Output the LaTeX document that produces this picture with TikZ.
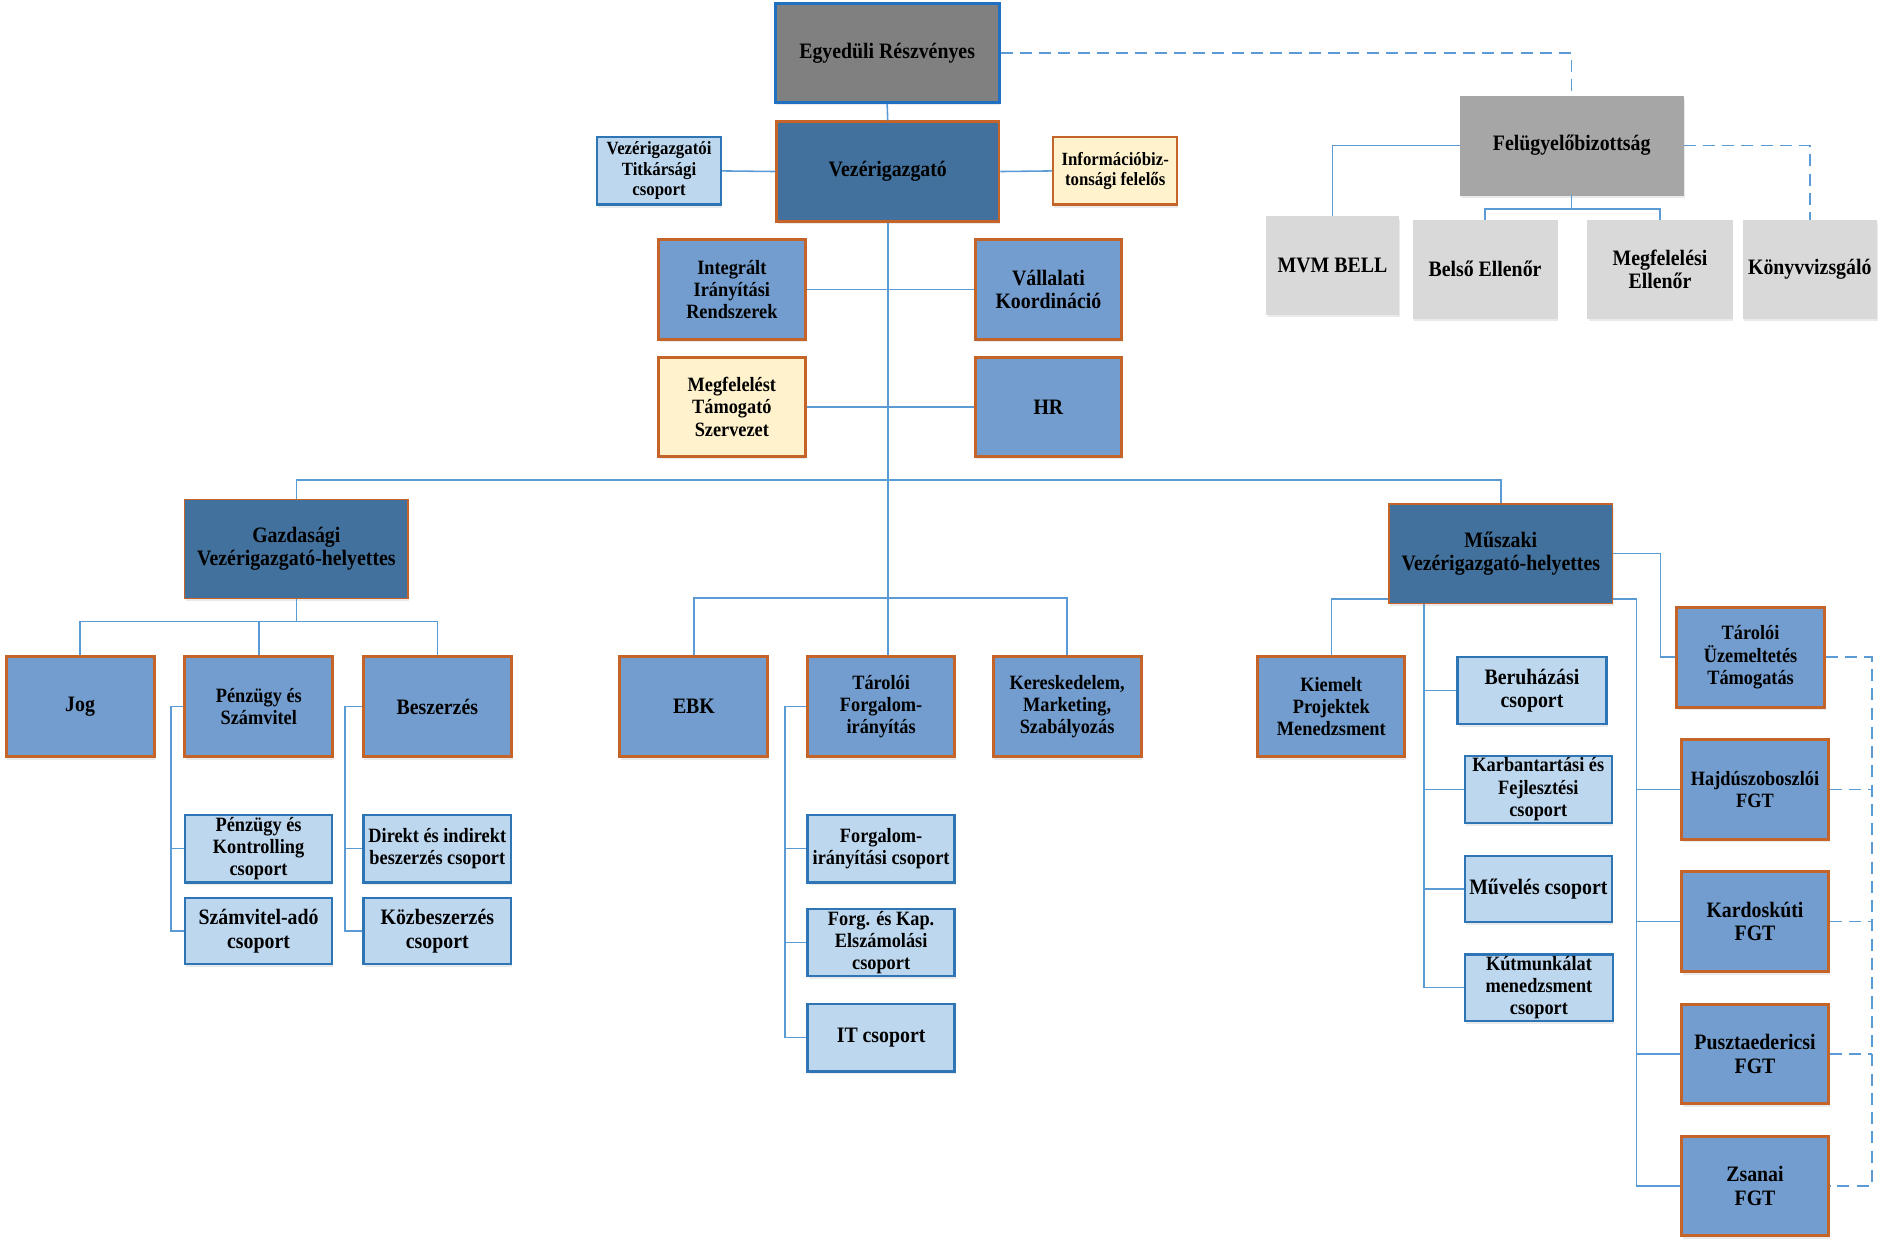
\documentclass[tikz,border=0pt]{standalone}
\usepackage{fontspec}
\setmainfont{Liberation Serif}[FakeStretch=0.9]
\usetikzlibrary{shadows}
\definecolor{dkblue}{RGB}{65,113,156}
\definecolor{mdblue}{RGB}{114,157,206}
\definecolor{ltblue}{RGB}{189,215,238}
\definecolor{ltyellow}{RGB}{255,242,204}
\definecolor{orng}{RGB}{197,100,40}
\definecolor{bdblue}{RGB}{46,117,182}
\definecolor{egyblue}{RGB}{31,112,193}
\definecolor{lnblue}{RGB}{91,155,213}
\definecolor{grA}{RGB}{128,128,128}
\definecolor{grB}{RGB}{166,166,166}
\definecolor{grC}{RGB}{217,217,217}
\newcommand\fsA{\fontsize{18.3}{19.7}\selectfont}
\newcommand\fsB{\fontsize{16.9}{18.6}\selectfont}
\newcommand\fsC{\fontsize{15.5}{17}\selectfont}
\tikzset{
  wh/.style 2 args={minimum width=#1pt, minimum height=#2pt},
  basebox/.style={inner sep=0pt, align=center, font=\bfseries\fsA,
    drop shadow={opacity=0.16, shadow xshift=1pt, shadow yshift=-2.5pt}},
  egybox/.style={basebox, fill=grA, draw=egyblue, line width=2.5pt},
  dkbox/.style={basebox, fill=dkblue, draw=orng, line width=1.2pt},
  mdbox/.style={basebox, fill=mdblue, draw=orng, line width=2.5pt},
  ltbox/.style={basebox, fill=ltblue, draw=bdblue, line width=2pt},
  ylbox/.style={basebox, fill=ltyellow, draw=orng, line width=2pt},
  gbbox/.style={basebox, fill=grB, draw=grB, line width=0.5pt},
  lgbox/.style={basebox, fill=grC, draw=grC, line width=0.5pt},
  fB/.style={font=\bfseries\fsB},
  fC/.style={font=\bfseries\fsC},
  conn/.style={draw=lnblue, line width=1.3pt},
  dconn/.style={conn, dash pattern=on 10pt off 6pt}
}
\begin{document}
\begin{tikzpicture}[x=1pt, y=-1pt]
\fill[white] (0,0) rectangle (1566,1035);
\useasboundingbox (0,0) rectangle (1566,1035);

% top
\node[egybox, wh={186}{82}] (egy) at (737,44) {Egyedüli Részvényes};
\node[dkbox, line width=2pt, wh={185}{83}] (vez) at (737.5,142.5) {Vezérigazgató};
\node[ltbox, fC, wh={103}{56}] (titk) at (547.5,142) {Vezérigazgatói\\Titkársági\\csoport};
\node[ylbox, fC, wh={103}{56}] (info) at (926.5,142) {Információbiz-\\tonsági felelős};
\node[mdbox, fB, wh={122}{83}] (iir) at (608,240.5) {Integrált\\Irányítási\\Rendszerek};
\node[mdbox, wh={122}{83}] (vall) at (871,240.5) {Vállalati\\Koordináció};
\node[ylbox, line width=2.5pt, fB, wh={122}{82}] (mtsz) at (608,338) {Megfelelést\\Támogató\\Szervezet};
\node[mdbox, wh={122}{82}] (hr) at (871,338) {HR};

% supervisory board
\node[gbbox, wh={185.5}{82}] (felb) at (1305.7,121) {Felügyelőbizottság};
\node[lgbox, wh={110}{81}] (mvm) at (1107,220.5) {MVM BELL};
\node[lgbox, wh={119.5}{81.5}] (belso) at (1233.7,223.7) {Belső Ellenőr};
\node[lgbox, wh={120}{81.5}] (megfe) at (1379,223.7) {Megfelelési\\Ellenőr};
\node[lgbox, wh={111}{81.5}] (konyv) at (1503.5,223.7) {Könyvvizsgáló};

% deputies
\node[dkbox, wh={185.5}{82}] (gazd) at (246.2,456) {Gazdasági\\Vezérigazgató-helyettes};
\node[dkbox, wh={185.6}{82.5}] (musz) at (1246.8,460) {Műszaki\\Vezérigazgató-helyettes};

% economic branch
\node[mdbox, wh={123}{83}] (jog) at (66.5,587) {Jog};
\node[mdbox, fB, wh={123}{83}] (penz) at (215,587) {Pénzügy és\\Számvitel};
\node[mdbox, wh={123}{83}] (besz) at (363.3,587) {Beszerzés};
\node[ltbox, fB, wh={122.5}{56}] (pkcs) at (214.8,705) {Pénzügy és\\Kontrolling\\csoport};
\node[ltbox, wh={122.5}{55}] (szacs) at (214.8,773.5) {Számvitel-adó\\csoport};
\node[ltbox, fB, wh={122.5}{56}] (dicsp) at (363.3,705) {Direkt és indirekt\\beszerzés csoport};
\node[ltbox, wh={122.5}{55}] (kozb) at (363.3,773.5) {Közbeszerzés\\csoport};

% CEO direct units
\node[mdbox, wh={123}{83}] (ebk) at (576.5,587) {EBK};
\node[mdbox, fB, wh={122}{83}] (tfi) at (732,587) {Tárolói\\Forgalom-\\irányítás};
\node[mdbox, fB, wh={123}{83}] (kms) at (886.5,587) {Kereskedelem,\\Marketing,\\Szabályozás};
\node[ltbox, fB, wh={122}{56}] (fics) at (732,705) {Forgalom-\\irányítási csoport};
\node[ltbox, fB, wh={122}{55.4}] (fkcs) at (732,783) {Forg. és Kap.\\Elszámolási\\csoport};
\node[ltbox, wh={122}{56}] (itcs) at (732,862) {IT csoport};

% technical branch
\node[mdbox, fB, wh={122}{83}] (kiem) at (1106,587) {Kiemelt\\Projektek\\Menedzsment};
\node[ltbox, wh={123.5}{55.5}] (beru) at (1272.7,573.7) {Beruházási\\csoport};
\node[ltbox, fB, wh={122}{55.5}] (karb) at (1278,655.8) {Karbantartási és\\Fejlesztési\\csoport};
\node[ltbox, wh={122}{55}] (muvel) at (1278,738.5) {Művelés csoport};
\node[ltbox, fB, wh={123}{55}] (kutm) at (1278.5,820.5) {Kútmunkálat\\menedzsment\\csoport};
\node[mdbox, fB, wh={122.6}{83}] (tut) at (1454.3,546) {Tárolói\\Üzemeltetés\\Támogatás};
\node[mdbox, fB, wh={122}{82.5}] (hajdu) at (1458,656) {Hajdúszoboszlói\\FGT};
\node[mdbox, wh={122}{83}] (kard) at (1458,765.6) {Kardoskúti\\FGT};
\node[mdbox, wh={122}{82.5}] (puszt) at (1458,875.5) {Pusztaedericsi\\FGT};
\node[mdbox, wh={122}{82.5}] (zsan) at (1458,985.3) {Zsanai\\FGT};

% ---- connectors ----
\coordinate (b1) at (737.5,399);
\coordinate (b2) at (737.5,497);
\coordinate (g1) at (246.2,516.5);
\draw[conn] (egy.south) -- (vez.north);
\draw[conn] (vez.west) -- (titk.east);
\draw[conn] (vez.east) -- (info.west);
\draw[conn] (vez.south) -- (vez.south |- tfi.north);
\draw[conn] (iir.east) -- (vall.west);
\draw[conn] (mtsz.east) -- (hr.west);
\draw[conn] (gazd.north) |- (b1) -| (musz.north);
\draw[conn] (ebk.north) |- (b2) -| (kms.north);

% supervisory
\draw[dconn] (egy.east) -| (felb.north);
\draw[conn] (felb.west) -| (mvm.north);
\draw[dconn] (felb.east) -| (konyv.north);
\coordinate (fb) at ([yshift=-11.6pt]felb.south);
\draw[conn] (felb.south) -- (fb);
\draw[conn] (belso.north) |- (fb) -| (megfe.north);

% economic
\draw[conn] (gazd.south) -- (g1);
\draw[conn] (jog.north) |- (g1) -| (besz.north);
\draw[conn] (penz.north) -- (penz.north |- g1);
\draw[conn] (penz.west) -- ++(-10,0) |- (szacs.west);
\draw[conn] (pkcs.west) -- ++(-10,0);
\draw[conn] (besz.west) -- ++(-14,0) |- (kozb.west);
\draw[conn] (dicsp.west) -- ++(-14,0);

% traffic
\draw[conn] (tfi.west) -- ++(-17.6,0) |- (itcs.west);
\draw[conn] (fics.west) -- ++(-17.6,0);
\draw[conn] (fkcs.west) -- ++(-17.6,0);

% technical
\draw[conn] ([yshift=4pt]musz.south west) -| (kiem.north);
\coordinate (mv) at ([xshift=-63.8pt]musz.south);
\draw[conn] (mv) |- (kutm.west);
\draw[conn] (mv |- beru.west) -- (beru.west);
\draw[conn] (mv |- karb.west) -- (karb.west);
\draw[conn] (mv |- muvel.west) -- (muvel.west);
\coordinate (rtop) at ([yshift=4pt]musz.south east);
\coordinate (rbus) at ([xshift=19.4pt]rtop);
\draw[conn] (rtop) -- (rbus) |- (zsan.west);
\draw[conn] (rbus |- hajdu.west) -- (hajdu.west);
\draw[conn] (rbus |- kard.west) -- (kard.west);
\draw[conn] (rbus |- puszt.west) -- (puszt.west);
\draw[conn] (musz.east) -- ++(39.4,0) |- (tut.west);

% dashed right side
\coordinate (dv) at (1555,546);
\draw[dconn] (tut.east) -- (dv) |- (zsan.east);
\draw[dconn] (hajdu.east) -- (hajdu.east -| dv);
\draw[dconn] (kard.east) -- (kard.east -| dv);
\draw[dconn] (puszt.east) -- (puszt.east -| dv);
\end{tikzpicture}
\end{document}
